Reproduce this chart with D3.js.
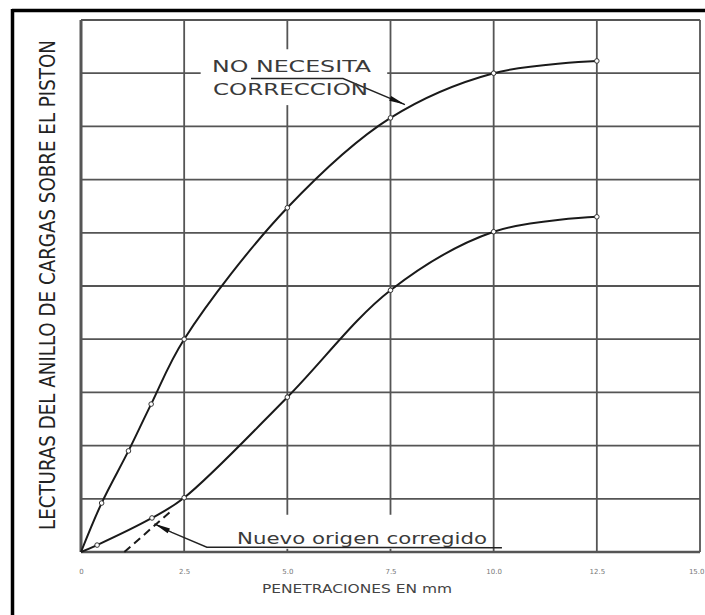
<!DOCTYPE html>
<html>
<head>
<meta charset="utf-8">
<script src="https://cdn.jsdelivr.net/npm/d3@7"></script>
<style>
  html, body { margin: 0; padding: 0; background: #fff; }
  svg { display: block; }
</style>
</head>
<body>
<svg id="chart" width="705" height="615"></svg>
<script>
'use strict';

// penetration (mm) on x, ring readings (grid divisions) on y
var xTicks      = [0, 2.5, 5.0, 7.5, 10.0, 12.5, 15.0];
var xTickLabels = ["0", "2.5", "5.0", "7.5", "10.0", "12.5", "15.0"];
var yGrid       = [0, 1, 2, 3, 4, 5, 6, 7, 8, 9, 10];

var upperX = [0, 0.5, 1.15, 1.7, 2.5, 5.0, 7.5, 10.0, 12.5];
var upperY = [0, 0.92, 1.9, 2.78, 4.0, 6.47, 8.16, 9.0, 9.23];

var lowerX = [0, 0.39, 1.72, 2.5, 5.0, 7.5, 10.0, 12.5];
var lowerY = [0, 0.13, 0.64, 1.02, 2.91, 4.92, 6.02, 6.3];

// corrected origin tangent (dashed)
var dashX = [1.05, 2.2];
var dashY = [0, 0.78];

var xTitle = "PENETRACIONES EN mm";
var yTitle = "LECTURAS DEL ANILLO DE CARGAS SOBRE EL PISTON";
var noteTop = ["NO NECESITA", "CORRECCION"];
var noteBottom = "Nuevo origen corregido";

var svg = d3.select("#chart");

var xScale = d3.scaleLinear().domain([0, 15]).range([81, 700]),
    yScale = d3.scaleLinear().domain([0, 10]).range([552, 20]);

var gridColor = "#555";

// outer black frame (top and left only)
svg.append("line").attr("x1", 12).attr("x2", 705).attr("y1", 10.5).attr("y2", 10.5)
    .style("stroke", "#000").style("stroke-width", 3.5);
svg.append("line").attr("x1", 12.5).attr("x2", 12.5).attr("y1", 9).attr("y2", 615)
    .style("stroke", "#000").style("stroke-width", 3.5);

// grid
var grid = svg.append("g");
grid.selectAll("line.v").data(xTicks).enter().append("line")
    .attr("class", "v")
    .attr("x1", function(d){return xScale(d);})
    .attr("x2", function(d){return xScale(d);})
    .attr("y1", yScale(10))
    .attr("y2", yScale(0))
    .style("stroke", gridColor)
    .style("stroke-width", function(d, i){return i === 0 ? 3 : 1.8;});
grid.selectAll("line.h").data(yGrid).enter().append("line")
    .attr("class", "h")
    .attr("x1", xScale(0))
    .attr("x2", xScale(15))
    .attr("y1", function(d){return yScale(d);})
    .attr("y2", function(d){return yScale(d);})
    .style("stroke", gridColor)
    .style("stroke-width", function(d, i){return i === 0 ? 2.6 : 1.8;});

// white patches behind the notes
svg.append("rect")
    .attr("x", xScale(2.9)).attr("y", yScale(9.45))
    .attr("width", xScale(7.42) - xScale(2.9))
    .attr("height", yScale(8.4) - yScale(9.45))
    .style("fill", "#fff");
svg.append("rect")
    .attr("x", xScale(3.55)).attr("y", yScale(0.7))
    .attr("width", xScale(9.8) - xScale(3.55))
    .attr("height", yScale(0.06) - yScale(0.7))
    .style("fill", "#fff");

// x tick labels
var xAxis = d3.axisBottom(xScale)
    .tickValues(xTicks)
    .tickSize(0)
    .tickPadding(17)
    .tickFormat(function(d, i){return xTickLabels[i];});
var gx = svg.append("g")
    .attr("transform", "translate(0," + yScale(0) + ")")
    .call(xAxis);
gx.select(".domain").remove();
gx.selectAll("text")
    .style("font-family", "DejaVu Sans, sans-serif")
    .style("font-size", "7px")
    .style("fill", "#777");
// last label sits on the right edge: keep it inside the page
gx.selectAll(".tick").filter(function(d){return d === 15;}).select("text")
    .attr("text-anchor", "end")
    .attr("x", 4);

// axis titles
svg.append("text")
    .attr("x", 357).attr("y", 593)
    .attr("text-anchor", "middle")
    .attr("textLength", 190)
    .attr("lengthAdjust", "spacingAndGlyphs")
    .style("font-family", "DejaVu Sans, sans-serif")
    .style("font-size", "13px")
    .style("fill", "#444")
    .text(xTitle);
svg.append("text")
    .attr("transform", "translate(55,285) rotate(-90)")
    .attr("text-anchor", "middle")
    .attr("textLength", 490)
    .attr("lengthAdjust", "spacingAndGlyphs")
    .style("font-family", "DejaVu Sans, sans-serif")
    .style("font-stretch", "condensed")
    .style("font-size", "21px")
    .style("fill", "#222")
    .text(yTitle);

// curves
var line = d3.line()
    .x(function(d){return xScale(d[0]);})
    .y(function(d){return yScale(d[1]);})
    .curve(d3.curveCatmullRom.alpha(0.5));

var series = [d3.zip(upperX, upperY), d3.zip(lowerX, lowerY)];

svg.append("g").selectAll("path").data(series).enter().append("path")
    .attr("d", function(d){return line(d);})
    .style("fill", "none")
    .style("stroke", "#1a1a1a")
    .style("stroke-width", 2);

// reading markers
series.forEach(function(s){
    svg.append("g").selectAll("circle").data(s.slice(1)).enter().append("circle")
        .attr("cx", function(d){return xScale(d[0]);})
        .attr("cy", function(d){return yScale(d[1]);})
        .attr("r", 2.3)
        .style("fill", "#fff")
        .style("stroke", "#333")
        .style("stroke-width", 1);
});

// dashed corrected-origin line
var straight = d3.line()
    .x(function(d){return xScale(d[0]);})
    .y(function(d){return yScale(d[1]);});

svg.append("path")
    .attr("d", straight(d3.zip(dashX, dashY)))
    .style("fill", "none")
    .style("stroke", "#1a1a1a")
    .style("stroke-width", 2)
    .style("stroke-dasharray", "8,5");

// leader lines with arrow heads
var topLeader = [[4.12, 8.9], [6.35, 8.9], [7.85, 8.41]];
var bottomLeader = [[10.2, 0.08], [3.05, 0.09], [2.2, 0.37], [1.78, 0.53]];

function arrow(pts) {
    svg.append("path")
        .attr("d", straight(pts))
        .style("fill", "none")
        .style("stroke", "#222")
        .style("stroke-width", 1.4);
    var a = pts[pts.length - 2], b = pts[pts.length - 1],
        x1 = xScale(a[0]), y1 = yScale(a[1]),
        x2 = xScale(b[0]), y2 = yScale(b[1]),
        ang = Math.atan2(y2 - y1, x2 - x1),
        len = 16, w = 2.6;
    var p = [
        [x2, y2],
        [x2 - len*Math.cos(ang) - w*Math.sin(ang), y2 - len*Math.sin(ang) + w*Math.cos(ang)],
        [x2 - len*Math.cos(ang) + w*Math.sin(ang), y2 - len*Math.sin(ang) - w*Math.cos(ang)]
    ];
    svg.append("path")
        .attr("d", "M" + p.join("L") + "Z")
        .style("fill", "#111");
}
arrow(topLeader);
arrow(bottomLeader);

// notes
svg.append("text")
    .attr("x", 212).attr("y", 72)
    .attr("textLength", 159)
    .attr("lengthAdjust", "spacingAndGlyphs")
    .style("font-family", "DejaVu Sans, sans-serif")
    .style("font-size", "15px")
    .style("fill", "#3a3a3a")
    .text(noteTop[0]);
svg.append("text")
    .attr("x", 213).attr("y", 95)
    .attr("textLength", 155)
    .attr("lengthAdjust", "spacingAndGlyphs")
    .style("font-family", "DejaVu Sans, sans-serif")
    .style("font-size", "15px")
    .style("fill", "#3a3a3a")
    .text(noteTop[1]);
svg.append("text")
    .attr("x", 237).attr("y", 544)
    .attr("textLength", 250)
    .attr("lengthAdjust", "spacingAndGlyphs")
    .style("font-family", "DejaVu Sans, sans-serif")
    .style("font-size", "15px")
    .style("fill", "#3a3a3a")
    .text(noteBottom);
</script>
</body>
</html>
